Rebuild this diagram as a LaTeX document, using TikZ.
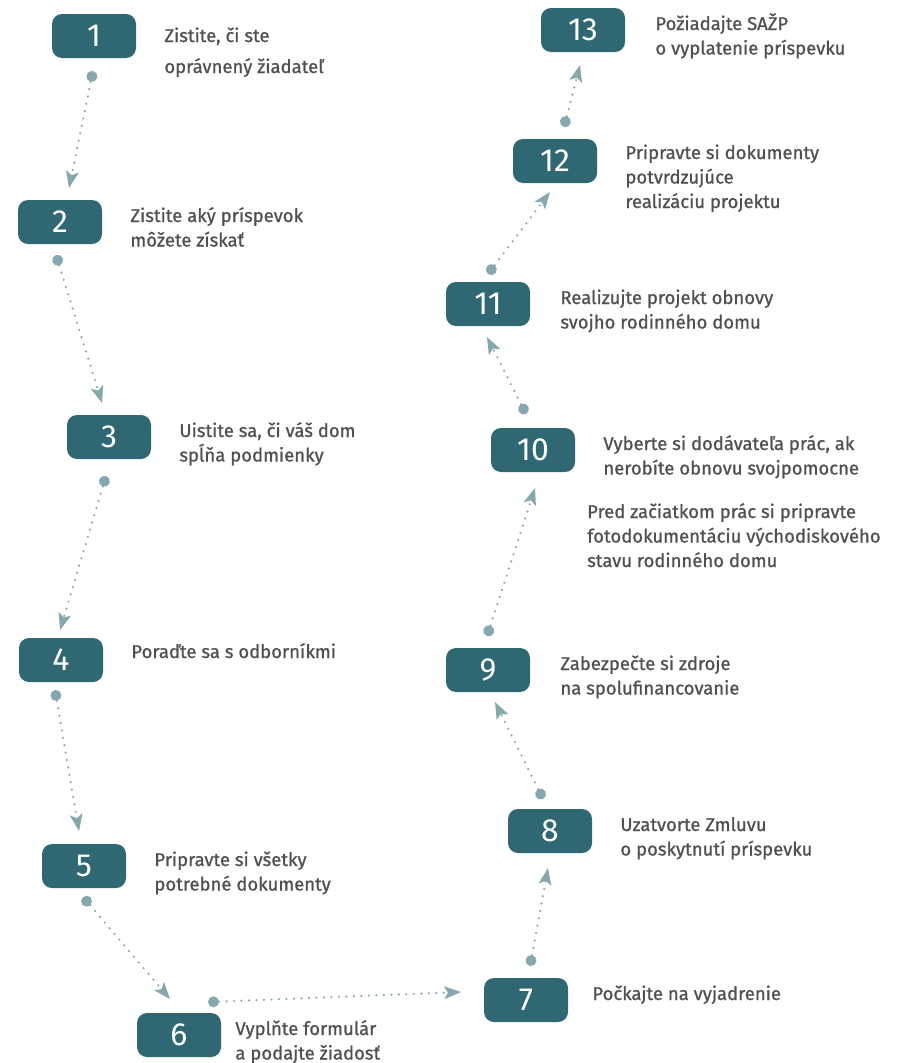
\documentclass[tikz,border=0pt]{standalone}
\usepackage{fontspec}
\setmainfont{Fira Sans}
\newfontfamily\lblfont{Fira Sans}[FakeBold=0.9]
\usetikzlibrary{positioning,arrows.meta}
\definecolor{boxteal}{HTML}{2F6872}
\definecolor{linkgrey}{HTML}{86A7AE}
\definecolor{txtgrey}{HTML}{505050}
\begin{document}
\begin{tikzpicture}[x=1pt,y=-1pt,
  stepbox/.style={rectangle,rounded corners=10pt,fill=boxteal,text=white,
    minimum width=84pt,minimum height=44pt,inner sep=0pt,font=\fontsize{32}{32}\selectfont},
  lbl/.style={anchor=base west,align=left,text=txtgrey,inner sep=0pt,
    font=\lblfont\fontsize{18.5}{24.5}\selectfont},
  twolines/.style={yshift=-24.5pt},
  link/.style={linkgrey,line width=2.4pt,line cap=round,dash pattern=on 0pt off 7.5pt,
    {Circle[length=11pt,line width=0pt]}-{Stealth[length=17pt,width=13pt,inset=4pt,line width=0pt]}}]
\useasboundingbox (0,0) rectangle (912,1063);

% kroky
\node[stepbox] (n1) at (94,36) {1};
\node[stepbox] (n2) at (60,222) {2};
\node[stepbox] (n3) at (109,437) {3};
\node[stepbox] (n4) at (61,660) {4};
\node[stepbox] (n5) at (84,866) {5};
\node[stepbox] (n6) at (179,1035) {6};
\node[stepbox] (n7) at (526,1000) {7};
\node[stepbox] (n8) at (550,831) {8};
\node[stepbox] (n9) at (488,670) {9};
\node[stepbox] (n10) at (533,450) {10};
\node[stepbox] (n11) at (488,304) {11};
\node[stepbox] (n12) at (555,161) {12};
\node[stepbox] (n13) at (583,30) {13};

% popisy (base = posledny riadok)
\node[lbl, right=28pt of n1.east, anchor=base west, yshift=-37pt] (t1) {Zistite, či ste\\[6.5pt]oprávnený žiadateľ};
\node[lbl, right=28pt of n2.east, anchor=base west, twolines] (t2) {Zistite aký príspevok\\môžete získať};
\node[lbl, right=28pt of n3.east, anchor=base west, twolines] (t3) {Uistite sa, či váš dom\\spĺňa podmienky};
\node[lbl, right=28pt of n4.east, anchor=base west, yshift=2pt] (t4) {Poraďte sa s odborníkmi};
\node[lbl, right=28pt of n5.east, anchor=base west, twolines] (t5) {Pripravte si všetky\\potrebné dokumenty};
\node[lbl, right=14pt of n6.east, anchor=base west, twolines] (t6) {Vyplňte formulár\\a podajte žiadosť};
\node[lbl, right=24pt of n7.east, anchor=base west] (t7) {Počkajte na vyjadrenie};
\node[lbl, right=28pt of n8.east, anchor=base west, twolines] (t8) {Uzatvorte Zmluvu\\o poskytnutí príspevku};
\node[lbl, right=30pt of n9.east, anchor=base west, twolines] (t9) {Zabezpečte si zdroje\\na spolufinancovanie};
\node[lbl, right=28pt of n10.east, anchor=base west, twolines] (t10) {Vyberte si dodávateľa prác, ak\\nerobíte obnovu svojpomocne};
\node[lbl, anchor=base west] (note) at (587,567) {Pred začiatkom prác si pripravte\\fotodokumentáciu východiskového\\stavu rodinného domu};
\node[lbl, right=30pt of n11.east, anchor=base west, twolines] (t11) {Realizujte projekt obnovy\\svojho rodinného domu};
\node[lbl, right=28pt of n12.east, anchor=base west, yshift=-47pt] (t12) {Pripravte si dokumenty\\potvrdzujúce\\realizáciu projektu};
\node[lbl, right=30pt of n13.east, anchor=base west, twolines] (t13) {Požiadajte SAŽP\\o vyplatenie príspevku};

% body spojnic
\coordinate (s1) at (93,71);   \coordinate (e1) at (69,188);
\coordinate (s2) at (56,255);  \coordinate (e2) at (102,403);
\coordinate (s3) at (106,476); \coordinate (e3) at (60,630);
\coordinate (s4) at (55,690);  \coordinate (e4) at (79,831);
\coordinate (s5) at (83,897);  \coordinate (e5) at (170,999);
\coordinate (s6) at (208,1002);\coordinate (e6) at (461,992);
\coordinate (s7) at (530,966); \coordinate (e7) at (548,868);
\coordinate (s8) at (543,799); \coordinate (e8) at (495,702);
\coordinate (s9) at (487,636); \coordinate (e9) at (535,488);
\coordinate (s10) at (526,414);\coordinate (e10) at (487,337);
\coordinate (s11) at (488,274);\coordinate (e11) at (550,192);
\coordinate (s12) at (564,127);\coordinate (e12) at (580,65);

\foreach \i in {1,...,12}
  \draw[link] (s\i) -- (e\i);
\end{tikzpicture}
\end{document}
